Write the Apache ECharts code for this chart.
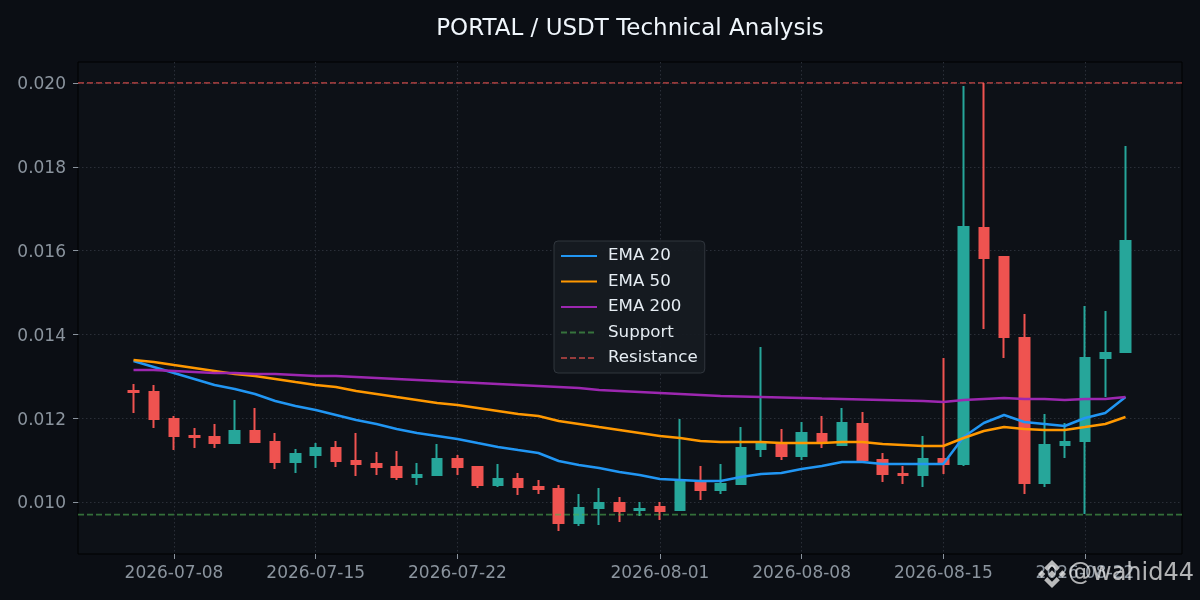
<!DOCTYPE html>
<html><head><meta charset="utf-8">
<style>html,body{margin:0;padding:0;background:#0b0e14}#c{width:1200px;height:600px}</style>
<script src="https://cdn.jsdelivr.net/npm/echarts@6/dist/echarts.min.js"></script>
</head><body><div id="c"></div>
<script>
const startDate = '2026-07-06';
const opens = [0.012650,0.012626,0.011981,0.011575,0.011552,0.011408,0.011695,0.011432,0.010955,0.011122,0.011289,0.010979,0.010907,0.010835,0.010597,0.010644,0.011026,0.010835,0.010406,0.010549,0.010358,0.010310,0.009499,0.009857,0.009976,0.009809,0.009881,0.009809,0.010477,0.010286,0.010430,0.011265,0.011384,0.011098,0.011623,0.011361,0.011862,0.011003,0.010668,0.010644,0.011026,0.010907,0.016540,0.015848,0.013915,0.010454,0.011361,0.011456,0.013437,0.013580];
const closes = [0.012626,0.011981,0.011575,0.011552,0.011408,0.011695,0.011432,0.010955,0.011146,0.011289,0.010979,0.010907,0.010835,0.010597,0.010644,0.011026,0.010835,0.010406,0.010549,0.010358,0.010310,0.009499,0.009857,0.009976,0.009785,0.009833,0.009785,0.010525,0.010286,0.010430,0.011289,0.011384,0.011098,0.011647,0.011408,0.011886,0.011003,0.010668,0.010644,0.011026,0.010907,0.016564,0.015824,0.013939,0.010454,0.011361,0.011432,0.013437,0.013557,0.016230];
const lows = [0.012124,0.011766,0.011241,0.011289,0.011289,0.011408,0.011408,0.010788,0.010692,0.010812,0.010835,0.010621,0.010644,0.010525,0.010406,0.010621,0.010644,0.010334,0.010358,0.010167,0.010191,0.009308,0.009427,0.009451,0.009523,0.009666,0.009570,0.009809,0.010048,0.010191,0.010430,0.011074,0.011003,0.011003,0.011289,0.011361,0.010979,0.010477,0.010430,0.010358,0.010668,0.010859,0.014130,0.013437,0.010191,0.010358,0.011050,0.009714,0.012506,0.013557];
const highs = [0.012817,0.012793,0.012053,0.011766,0.011862,0.012435,0.012244,0.011647,0.011265,0.011408,0.011456,0.011647,0.011194,0.011217,0.010931,0.011384,0.011122,0.010835,0.010907,0.010692,0.010525,0.010406,0.010191,0.010334,0.010119,0.010000,0.010000,0.011981,0.010859,0.010907,0.011790,0.013700,0.011743,0.011910,0.012053,0.012244,0.012148,0.011170,0.010859,0.011575,0.013437,0.019930,0.020000,0.015848,0.014488,0.012101,0.011886,0.014679,0.014559,0.018498];
const ema20 = [0.013366,0.013222,0.013079,0.012936,0.012793,0.012697,0.012578,0.012411,0.012292,0.012196,0.012077,0.011957,0.011862,0.011743,0.011647,0.011575,0.011504,0.011408,0.011313,0.011241,0.011170,0.010979,0.010883,0.010812,0.010716,0.010644,0.010549,0.010525,0.010501,0.010501,0.010597,0.010668,0.010692,0.010788,0.010859,0.010955,0.010955,0.010907,0.010907,0.010907,0.010907,0.011552,0.011886,0.012077,0.011910,0.011862,0.011814,0.012005,0.012124,0.012506];
const ema50 = [0.013390,0.013342,0.013270,0.013199,0.013127,0.013055,0.013008,0.012936,0.012864,0.012793,0.012745,0.012650,0.012578,0.012506,0.012435,0.012363,0.012315,0.012244,0.012172,0.012101,0.012053,0.011933,0.011862,0.011790,0.011719,0.011647,0.011575,0.011528,0.011456,0.011432,0.011432,0.011432,0.011408,0.011408,0.011408,0.011432,0.011432,0.011384,0.011361,0.011337,0.011337,0.011528,0.011695,0.011790,0.011743,0.011719,0.011719,0.011790,0.011862,0.012029];
const ema200 = [0.013151,0.013151,0.013127,0.013103,0.013079,0.013079,0.013055,0.013055,0.013031,0.013008,0.013008,0.012984,0.012960,0.012936,0.012912,0.012888,0.012864,0.012841,0.012817,0.012793,0.012769,0.012745,0.012721,0.012673,0.012650,0.012626,0.012602,0.012578,0.012554,0.012530,0.012518,0.012506,0.012494,0.012482,0.012470,0.012459,0.012447,0.012435,0.012423,0.012411,0.012387,0.012435,0.012459,0.012482,0.012459,0.012459,0.012435,0.012459,0.012459,0.012506];
const supportLevel = 0.0097;
const resistanceLevel = 0.020;
const xTickLabels = ['2026-07-08','2026-07-15','2026-07-22','2026-08-01','2026-08-08','2026-08-15','2026-08-22'];
const yTickValues = [0.010,0.012,0.014,0.016,0.018,0.020];
const xStart = '2026-07-03T06:11:00';
const xEnd = '2026-08-26T18:58:00';
const yMin = 0.00876, yMax = 0.0205;

const DAY = 86400000;
const ms = s => new Date(s.length > 10 ? s : s + 'T00:00:00').getTime();
const dates = opens.map((_, i) => ms(startDate) + i * DAY);
const pair = arr => dates.map((d, i) => [d, arr[i]]);
const candleData = dates.map((d, i) => [d, opens[i], closes[i], lows[i], highs[i]]);
const xTicks = xTickLabels.map(ms);
const FONT = '"DejaVu Sans"';
const chart = echarts.init(document.getElementById('c'), null, {renderer:'canvas'});
const lineSeries = (name, arr, color) => ({name, type:'line', data:pair(arr), symbol:'none', showSymbol:false, smooth:false, z:4,
  lineStyle:{color, width:2.5}, itemStyle:{color}, emphasis:{disabled:true}, animation:false});
const levelSeries = (name, level, color) => ({name, type:'line', data:[[ms(xStart),level],[ms(xEnd),level]], symbol:'none', showSymbol:false, z:3,
  lineStyle:{color, width:1.7, type:[6,3]}, itemStyle:{color}, emphasis:{disabled:true}, animation:false});
const s = 14, cx = 1052, cy = 574;
const logo = pts => ({type:'polygon', silent:true, z:100, shape:{points:pts.map(p=>[cx+p[0]*s, cy+p[1]*s])}, style:{fill:'rgba(235,235,235,0.78)'}});
const diamond = (x,y,r) => logo([[x,y-r],[x+r,y],[x,y+r],[x-r,y]]);
chart.setOption({
  animation:false,
  backgroundColor:'#0b0e14',
  title:{text:'PORTAL / USDT Technical Analysis', left:625, top:13, textAlign:'center',
    textStyle:{color:'#f0f6fc', fontFamily:FONT, fontSize:23, fontWeight:'normal'}},
  grid:{left:78, right:18, top:62, bottom:46, show:true, backgroundColor:'#0d1117', borderColor:'#000000', borderWidth:1},
  legend:{show:true, orient:'vertical', left:554, top:241, padding:[6.5,7,6.5,6], itemWidth:36, itemHeight:14, itemGap:8.5,
    backgroundColor:'rgba(22,27,34,0.92)', borderColor:'#30363d', borderWidth:1, borderRadius:4,
    itemStyle:{color:'transparent', borderWidth:0},
    textStyle:{color:'#e6edf3', fontFamily:FONT, fontSize:16.67, padding:[0,0,0,6]},
    selectedMode:false,
    data:['EMA 20','EMA 50','EMA 200','Support','Resistance']},
  xAxis:{type:'value', scale:true, min:ms(xStart), max:ms(xEnd), axisLine:{show:false},
    axisTick:{show:true, length:5, lineStyle:{color:'#8b949e',width:1}, customValues:xTicks},
    axisLabel:{color:'#8b949e', fontFamily:FONT, fontSize:17, margin:11, hideOverlap:false,
      customValues:xTicks, showMinLabel:true, showMaxLabel:true,
      formatter:v=>echarts.time.format(v,'{yyyy}-{MM}-{dd}',false)},
    splitLine:{show:true, lineStyle:{color:'#2a2f38', type:[1.5,2.5], width:1}}},
  yAxis:{type:'value', min:yMin, max:yMax, axisLine:{show:false},
    axisTick:{show:true, length:5, lineStyle:{color:'#8b949e',width:1}, customValues:yTickValues},
    axisLabel:{margin:12, customValues:yTickValues,
      formatter:v=>'{t|'+v.toFixed(3)+'}',
      rich:{t:{color:'#8b949e', fontFamily:FONT, fontSize:17, padding:[4,0,0,0]}}},
    splitLine:{show:true, lineStyle:{color:'#2a2f38', type:[1.5,2.5], width:1}}},
  series:[
    {name:'Price', type:'candlestick', data:candleData, barWidth:10, z:2, animation:false,
      itemStyle:{color:'#26a69a', color0:'#ef5350', borderColor:'#26a69a', borderColor0:'#ef5350', borderColorDoji:'#ef5350', borderWidth:2}, emphasis:{disabled:true}},
    lineSeries('EMA 20', ema20, '#2196f3'),
    lineSeries('EMA 50', ema50, '#ff9800'),
    lineSeries('EMA 200', ema200, '#9c27b0'),
    levelSeries('Support', supportLevel, 'rgba(76,175,80,0.6)'),
    levelSeries('Resistance', resistanceLevel, 'rgba(239,83,80,0.6)')
  ],
  graphic:[
    {type:'text', silent:true, z:100, style:{text:'@wahid44', x:1068, y:574, textVerticalAlign:'middle', fill:'rgba(235,235,235,0.75)', font:'24px "DejaVu Sans"'}},
    logo([[0,-1],[0.56,-0.44],[0.34,-0.22],[0,-0.56],[-0.34,-0.22],[-0.56,-0.44]]),
    logo([[0,1],[0.56,0.44],[0.34,0.22],[0,0.56],[-0.34,0.22],[-0.56,0.44]]),
    diamond(-0.74,0,0.26), diamond(0.74,0,0.26), diamond(0,0,0.26)
  ]
});
</script></body></html>
